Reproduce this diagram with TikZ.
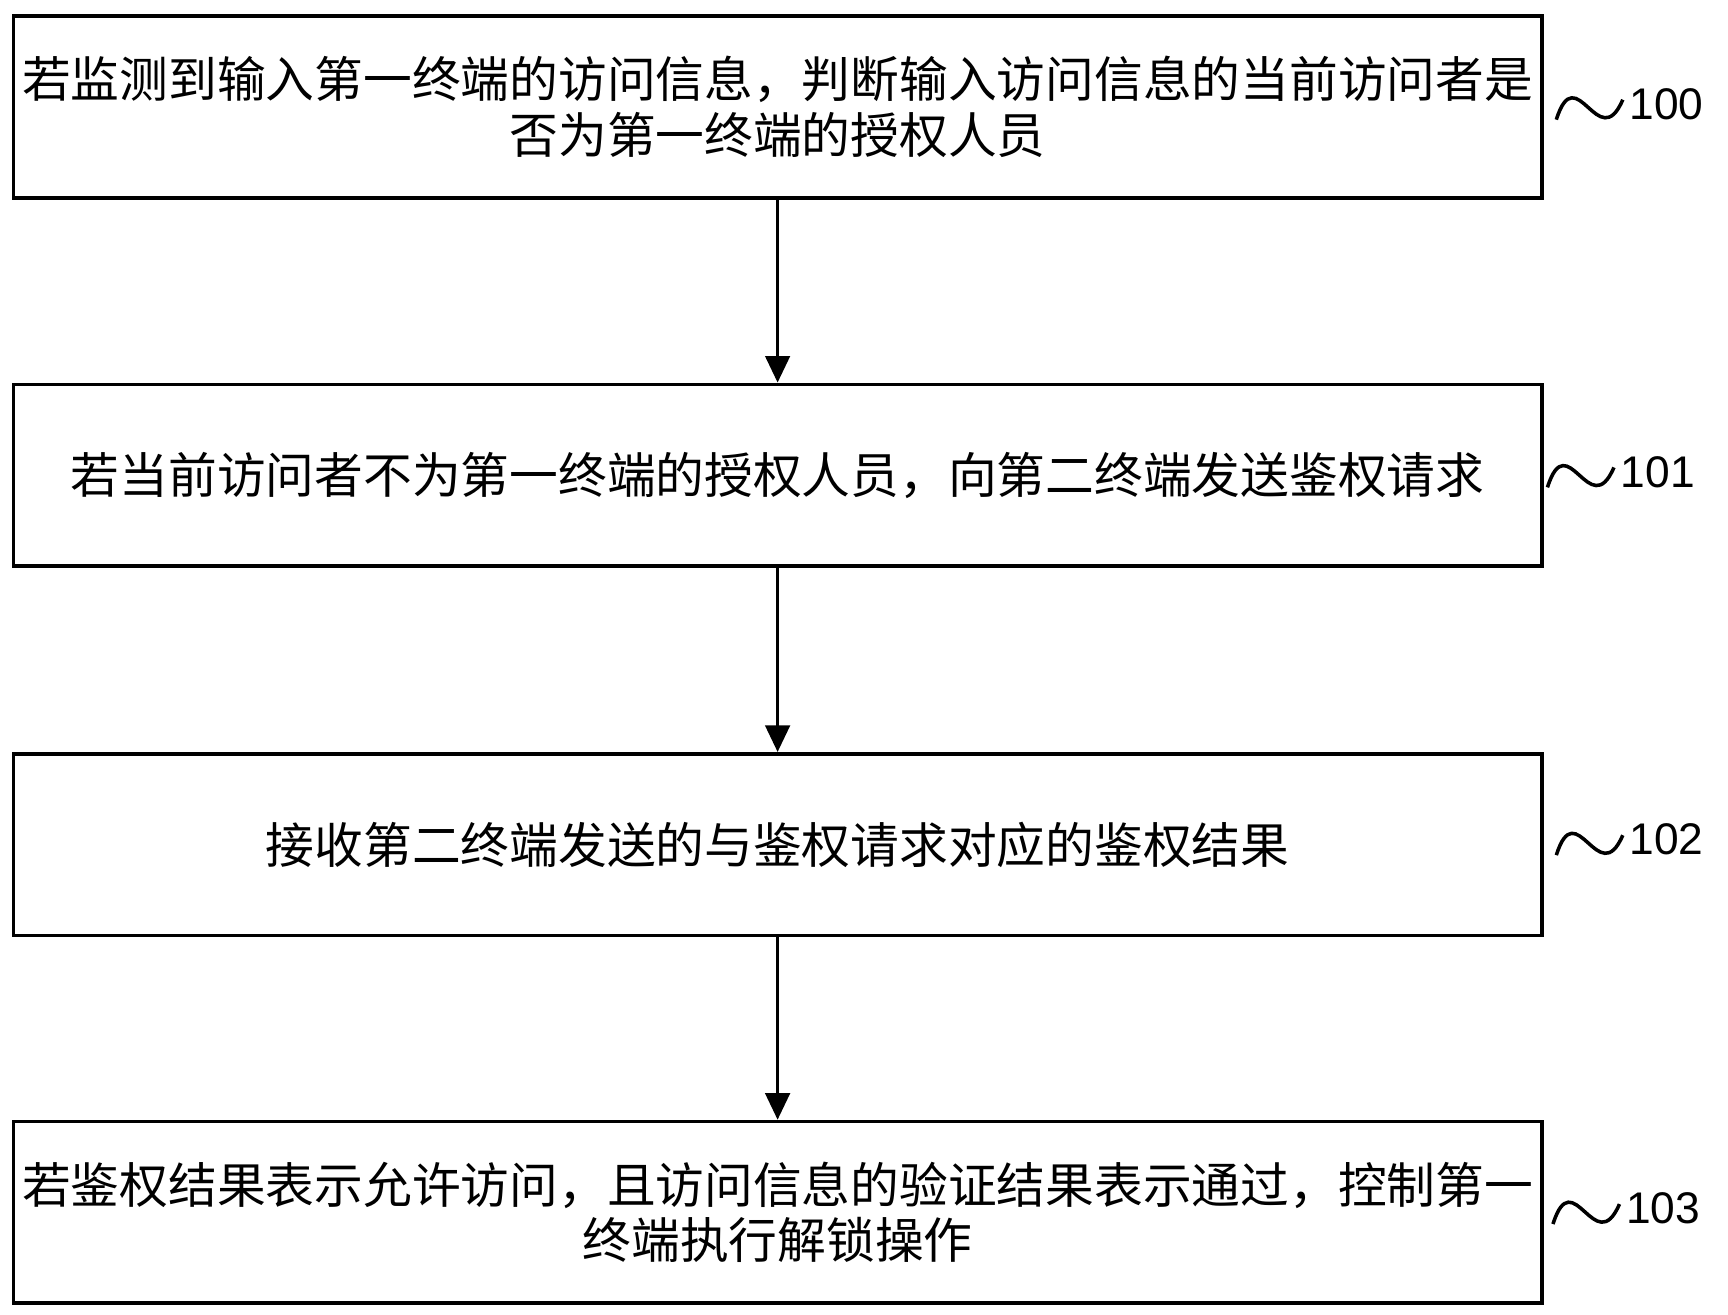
\documentclass[tikz,border=0pt]{standalone}
\usepackage{fontspec}
\setmainfont{Liberation Sans}
\newfontfamily\cjk{Noto Sans CJK SC}
\usetikzlibrary{arrows.meta}
\begin{document}
\begin{tikzpicture}[x=1pt,y=-1pt,
  box/.style={draw,line width=3.2pt,minimum width=1380pt,minimum height=164pt,inner sep=0pt,align=center,font=\cjk\fontsize{44}{50}\selectfont},
  arr/.style={line width=3.2pt,-{Triangle[length=24pt,width=22pt]}},
  lab/.style={font=\fontsize{40}{46}\selectfont,anchor=west,inner sep=0pt},
  sq/.style={line width=3.2pt}]
\useasboundingbox (0,0) rectangle (1560,1187);
\node[box] (b0) at (702,96.5) {若监测到输入第一终端的访问信息，判断输入访问信息的当前访问者是\\否为第一终端的授权人员};
\node[box] (b1) at (702,429) {若当前访问者不为第一终端的授权人员，向第二终端发送鉴权请求};
\node[box] (b2) at (702,762.5) {接收第二终端发送的与鉴权请求对应的鉴权结果};
\node[box] (b3) at (702,1094.5) {若鉴权结果表示允许访问，且访问信息的验证结果表示通过，控制第一\\终端执行解锁操作};
\draw[arr] (b0) -- (b1);
\draw[arr] (b1) -- (b2);
\draw[arr] (b2) -- (b3);
\foreach \t/\y/\xs in {100/96/1405,101/428/1397,102/760/1405,103/1093/1402}{
  \coordinate (s\t) at (\xs,\y+12);
  \coordinate (e\t) at (\xs+60,\y-6);
  \draw[sq] (s\t) .. controls (\xs+18,\y-45) and (\xs+38,\y+45) .. (e\t);
  \node[lab] (l\t) at (\xs+66,\y-2) {\t};
}
\end{tikzpicture}
\end{document}
